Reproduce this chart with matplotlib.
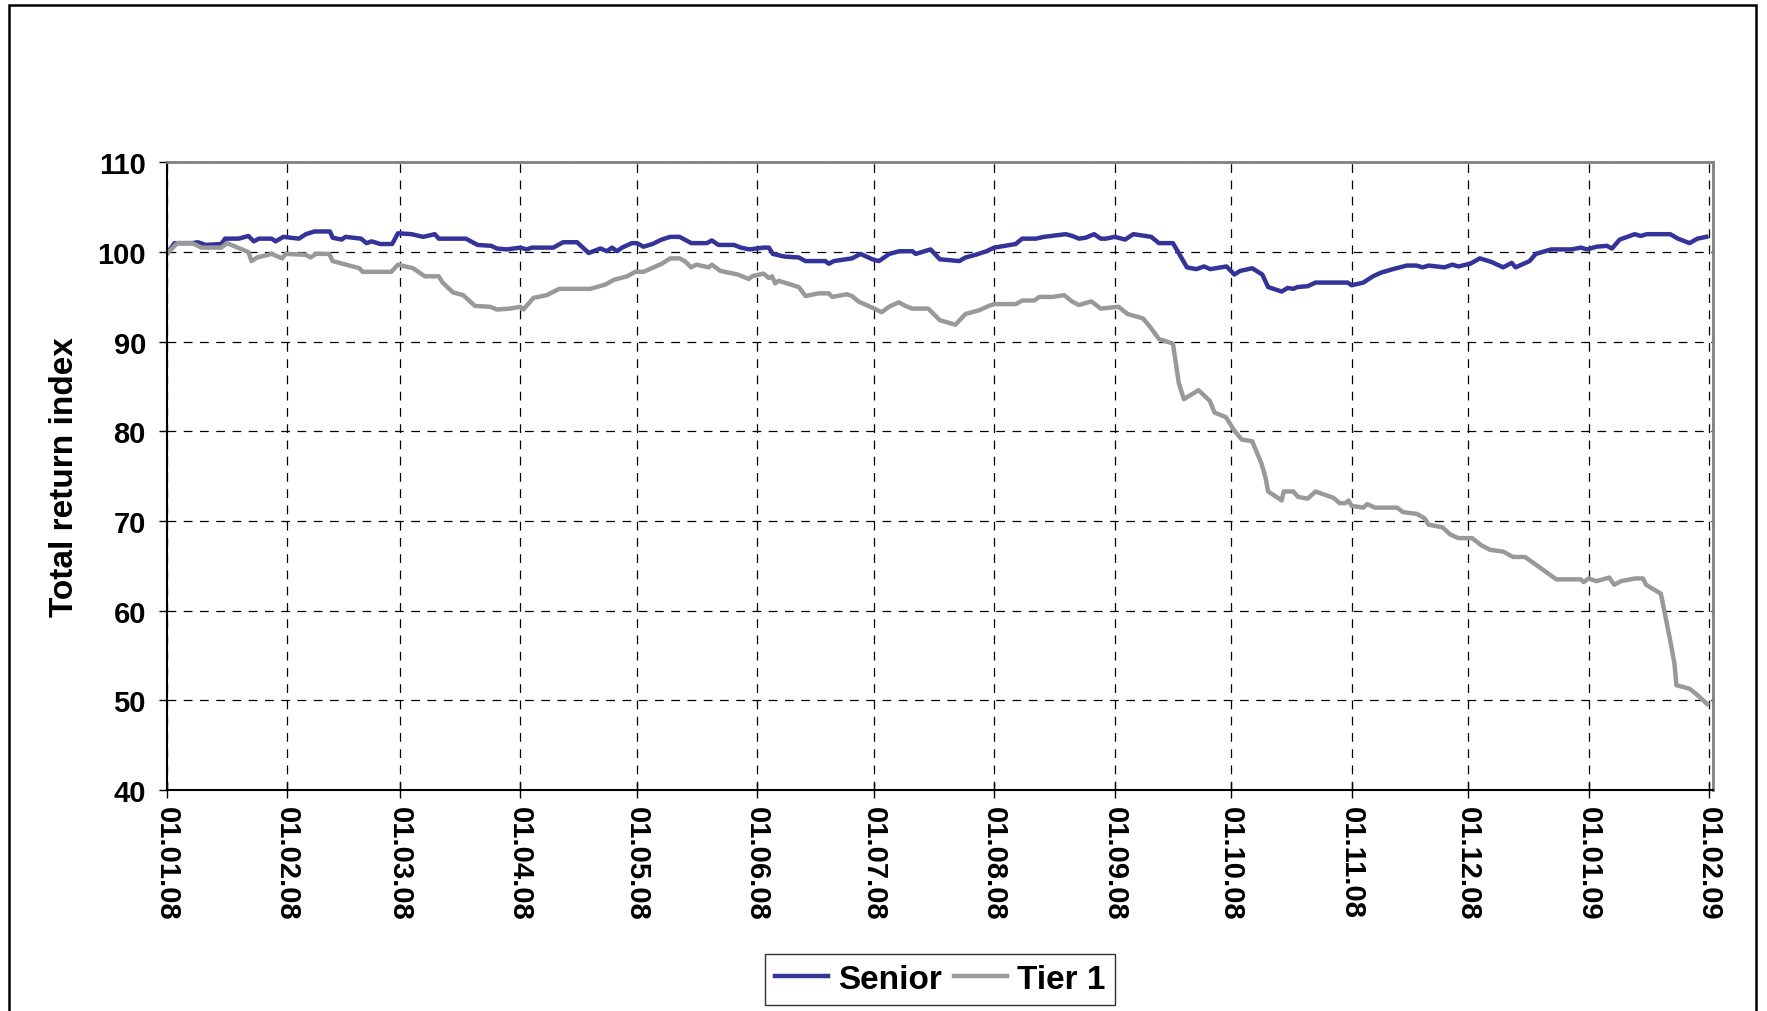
import matplotlib
matplotlib.use('Agg')
import matplotlib.pyplot as plt
import matplotlib.dates as mdates
from matplotlib.patches import Rectangle
import numpy as np
import pandas as pd

# day offsets from 01.01.08 and index levels
senior_days = [0, 2, 6.5, 8, 10, 14, 15, 18.5, 21, 22.4, 23.7, 27, 28, 30, 34, 35.8, 38, 42, 42.7,
               45, 46, 50, 51.4, 52.7, 55, 58, 59.5, 63, 66, 69, 70, 77, 80, 83.5, 85, 87.5, 91,
               92.7, 94, 99.5, 102, 105.6, 108.6, 111.6, 113.3, 114.6, 115.9, 117.2, 119.7, 121,
               122.7, 125, 127.4, 129.6, 132, 135, 139, 140.3, 142, 146, 147.8, 150, 153.6, 155,
               156, 159, 162.7, 164.4, 169.5, 170.4, 171.7, 176.4, 178.6, 181.6, 183.3, 186, 188.6,
               191.9, 192.8, 196.6, 199, 204, 205.6, 208.2, 211, 213, 218.5, 220.2, 223.7, 225.8,
               231.4, 233.1, 234.8, 236.5, 238.7, 240.4, 241.7, 244, 246.7, 248.8, 253.4, 255.4,
               259, 261, 262.6, 265, 267, 268.6, 272.8, 274.8, 276.3, 279.4, 282, 283.5, 287,
               288.5, 290, 291, 293.7, 295.7, 304, 305, 308, 310.5, 312.5, 315.6, 319.2, 321.7,
               323.3, 324.8, 328.9, 330.9, 332.5, 335.5, 338, 341, 344, 346.2, 347.2, 350.8,
               352.4, 356.4, 361.6, 364, 365.6, 368, 370.7, 372, 374, 377.9, 379.4, 381, 387,
               389, 392, 394, 396.3]
senior_vals = [99.8, 101, 101, 101.1, 100.8, 100.9, 101.5, 101.5, 101.8, 101.2, 101.5, 101.5, 101.2,
               101.7, 101.5, 102, 102.3, 102.3, 101.6, 101.4, 101.7, 101.5, 101, 101.2, 100.9,
               100.9, 102.1, 102, 101.7, 102, 101.5, 101.5, 100.8, 100.7, 100.4, 100.3, 100.5,
               100.3, 100.5, 100.5, 101.1, 101.1, 99.9, 100.4, 100.1, 100.5, 100.1, 100.5, 101,
               101, 100.6, 100.9, 101.4, 101.7, 101.7, 101, 101, 101.3, 100.8, 100.8, 100.5, 100.3,
               100.5, 100.5, 99.8, 99.5, 99.4, 99, 99, 98.7, 99, 99.3, 99.8, 99.2, 99, 99.8, 100.1,
               100.1, 99.8, 100.3, 99.2, 99, 99.4, 99.7, 100.1, 100.5, 100.9, 101.5, 101.5, 101.7,
               102, 101.8, 101.5, 101.6, 102, 101.5, 101.5, 101.7, 101.4, 102, 101.7, 101, 101,
               99.5, 98.3, 98.1, 98.4, 98.1, 98.4, 97.5, 97.9, 98.2, 97.5, 96.1, 95.6, 96, 95.9,
               96.1, 96.2, 96.6, 96.6, 96.3, 96.6, 97.3, 97.7, 98.1, 98.5, 98.5, 98.3, 98.5, 98.3,
               98.6, 98.4, 98.7, 99.3, 98.9, 98.3, 98.8, 98.3, 99, 99.8, 100.3, 100.3, 100.5,
               100.3, 100.6, 100.7, 100.4, 101.4, 102, 101.8, 102, 102, 101.5, 101, 101.5, 101.7]

tier1_days = [0, 2.7, 6.5, 9, 14, 15.5, 19.4, 21, 21.8, 23.3, 27, 29.7, 30.6, 35.8, 37, 38.4, 41.8,
              42.7, 45.3, 49.6, 50.4, 57.8, 59.5, 63.4, 66.4, 70, 71, 73.7, 76.3, 79.3, 83.2, 85,
              88.4, 91, 91.8, 94.4, 97.8, 101, 109, 113, 115, 118.5, 120.6, 122.7, 127.4, 129.6,
              132, 133.3, 135, 136.3, 139.5, 140.3, 142.5, 147, 149.8, 150.6, 153.6, 155, 155.8,
              156.6, 157.5, 162.7, 164.4, 167.8, 170.4, 171.3, 175, 176.4, 178, 181.6, 184, 185.9,
              188.4, 190.1, 191.9, 196, 199, 203, 205.6, 209, 211.6, 213, 218.5, 220.2, 223.3,
              224.6, 228, 231, 233, 234.8, 238, 240.4, 245, 247.3, 251.3, 253.4, 255.4, 259,
              260.5, 261.8, 265.6, 268.5, 269.7, 272.6, 274.8, 276.7, 279.4, 281.8, 282.8, 283.5,
              287, 287.5, 290, 291.2, 293.7, 295.7, 300.3, 301.9, 303.4, 304.2, 305, 308, 309, 311,
              316.7, 318.2, 321.8, 323.8, 324.8, 328.4, 330.4, 332.5, 336, 338.4, 340.6, 344,
              346.5, 349.6, 353.2, 357.7, 364, 364.7, 366, 368, 371.3, 372.6, 374.3, 377.9, 380,
              380.8, 384.6, 387, 388.1, 388.6, 392, 394, 396.5]
tier1_vals = [99.8, 101, 101, 100.5, 100.5, 101, 100.3, 100, 99, 99.4, 99.8, 99.3, 99.8, 99.7, 99.4,
              99.8, 99.8, 99, 98.7, 98.2, 97.8, 97.8, 98.6, 98.2, 97.3, 97.3, 96.6, 95.5, 95.2, 94,
              93.9, 93.6, 93.7, 93.9, 93.6, 94.9, 95.2, 95.9, 95.9, 96.4, 96.9, 97.3, 97.8, 97.8,
              98.7, 99.3, 99.3, 99, 98.3, 98.6, 98.3, 98.6, 97.9, 97.5, 97, 97.3, 97.6, 97.1, 97.3,
              96.5, 96.8, 96.1, 95.1, 95.4, 95.4, 95, 95.3, 95.1, 94.5, 93.8, 93.3, 93.9, 94.4, 94,
              93.7, 93.7, 92.4, 91.9, 93.1, 93.5, 94, 94.2, 94.2, 94.6, 94.6, 95, 95, 95.2, 94.5,
              94.1, 94.5, 93.7, 93.9, 93.1, 92.6, 91.5, 90.3, 89.8, 85.4, 83.6, 84.6, 83.4, 82.1,
              81.6, 80.1, 79.1, 78.9, 76.4, 74.9, 73.3, 72.3, 73.3, 73.3, 72.7, 72.5, 73.3, 72.6,
              72, 72, 72.3, 71.7, 71.5, 71.9, 71.5, 71.5, 71.0, 70.8, 70.3, 69.6, 69.3, 68.5, 68.1,
              68.1, 67.3, 66.8, 66.6, 66, 66, 64.9, 63.5, 63.5, 63.2, 63.6, 63.3, 63.7, 62.9, 63.3,
              63.6, 63.6, 62.9, 61.9, 56.7, 54.1, 51.7, 51.3, 50.6, 49.6]

start = pd.Timestamp('2008-01-01')
senior_x = start + pd.to_timedelta(senior_days, unit='D')
tier1_x = start + pd.to_timedelta(tier1_days, unit='D')
month_ticks = pd.date_range('2008-01-01', '2009-02-01', freq='MS')

plt.rcParams['font.family'] = ['Liberation Sans', 'DejaVu Sans']
plt.rcParams['font.weight'] = 'bold'

fig = plt.figure(figsize=(17.67, 10.12), dpi=100)
ax = fig.add_axes([0.0944, 0.2183, 0.875, 0.6202])

ax.plot(senior_x, senior_vals, color='#333399', lw=3.2, label='Senior')
ax.plot(tier1_x, tier1_vals, color='#999999', lw=3.2, label='Tier 1')

ax.set_ylim(40, 110)
ax.set_yticks(range(40, 111, 10))
ax.set_xlim(start, pd.Timestamp('2009-02-02'))
ax.set_xticks(month_ticks)
ax.xaxis.set_major_formatter(mdates.DateFormatter('%d.%m.%y'))

ax.grid(True, color='black', linestyle=(0, (7, 6)), linewidth=0.9)
ax.set_axisbelow(True)

for s in ['left', 'bottom']:
    ax.spines[s].set_color('black')
    ax.spines[s].set_linewidth(1.5)
for s in ['top', 'right']:
    ax.spines[s].set_color('#808080')
    ax.spines[s].set_linewidth(2)

ax.tick_params(axis='y', direction='out', length=6, width=1, pad=9, labelsize=21)
ax.tick_params(axis='x', direction='inout', length=11, width=1, pad=6, labelsize=21,
               labelrotation=270)
for lbl in ax.get_xticklabels() + ax.get_yticklabels():
    lbl.set_fontweight('bold')

ax.set_ylabel('Total return index', fontsize=24, fontweight='bold')
ax.yaxis.set_label_coords(-0.056, 0.5)

leg = fig.legend(loc='center', bbox_to_anchor=(0.532, 0.031), ncol=2, fontsize=24,
                 frameon=True, fancybox=False, handlelength=1.6, handletextpad=0.3,
                 columnspacing=0.35, borderpad=0.3, borderaxespad=0)
leg.get_frame().set_edgecolor('black')
leg.get_frame().set_linewidth(1)
for t in leg.get_texts():
    t.set_fontweight('bold')

# outer frame of the chart area
fig.patches.append(Rectangle((0.0051, -0.05), 0.9885, 1.0444, transform=fig.transFigure,
                             fill=False, edgecolor='black', lw=1.8))

fig.savefig('out.png', dpi=100)
